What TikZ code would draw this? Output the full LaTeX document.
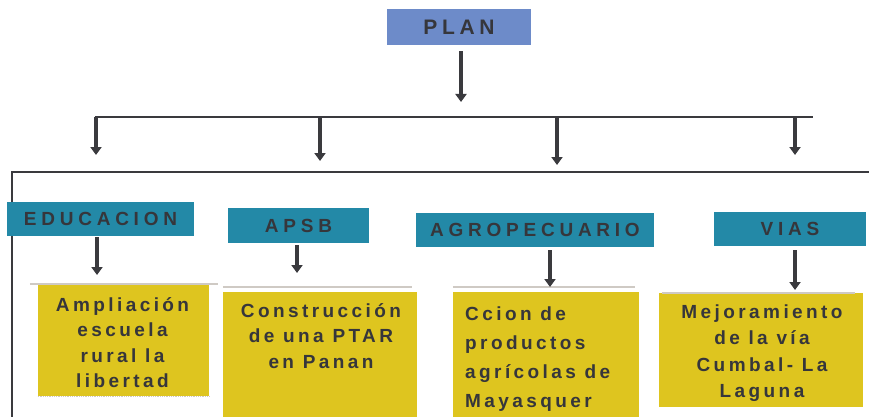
\documentclass[tikz,border=0pt]{standalone}
\usepackage{fontspec}
\setmainfont{Liberation Sans}
\newfontfamily\headfont[LetterSpace=25]{Liberation Sans}
\newfontfamily\planfont[LetterSpace=22]{Liberation Sans}
\newfontfamily\boxfont[LetterSpace=18]{Liberation Sans}
\usetikzlibrary{arrows.meta}
\definecolor{planblue}{HTML}{6D8BC9}
\definecolor{headteal}{HTML}{2389A7}
\definecolor{ylw}{HTML}{DEC51F}
\definecolor{ink}{HTML}{36363B}
\definecolor{lineink}{HTML}{3A3A3E}
\definecolor{shade}{HTML}{CFCAC4}
\begin{document}
\begin{tikzpicture}[x=1pt,y=-1pt,
  planbox/.style={fill=planblue, inner sep=0pt, minimum width=144pt, minimum height=36pt,
    text=ink, font=\planfont\bfseries\fontsize{21}{24}\selectfont},
  headbox/.style={fill=headteal, inner sep=0pt, minimum height=34pt,
    text=ink, font=\headfont\bfseries\fontsize{19}{22}\selectfont},
  ybox/.style={fill=ylw, inner sep=0pt},
  ytext/.style={text=ink, inner sep=0pt, align=center, anchor=base,
    font=\boxfont\bfseries\fontsize{19}{25.5}\selectfont},
  arr/.style={draw=lineink, line width=3.5pt, -{Triangle[width=11pt,length=8pt]}},
  bus/.style={draw=lineink, line width=2.5pt},
  frameline/.style={draw=lineink, line width=2pt},
  shadeline/.style={draw=shade, line width=2pt}]
\useasboundingbox (0,0) rectangle (869,417);

% top box
\node[planbox] (plan) at (459,27) {PLAN};
\coordinate (pa) at (461,102);
\draw[arr] ([yshift=-6pt]plan.south -| pa) -- (pa);

% bus
\coordinate (b1) at (96,117);
\coordinate (b2) at (320,117);
\coordinate (b3) at (557,117);
\coordinate (b4) at (795,117);
\coordinate (bend) at (813,117);
\draw[bus] ([xshift=-1.25pt]b1) -- (bend);
\coordinate (d1) at (96,155);
\coordinate (d2) at (320,161);
\coordinate (d3) at (557,165);
\coordinate (d4) at (795,155);
\draw[arr] (b1) -- (d1);
\draw[arr] (b2) -- (d2);
\draw[arr] (b3) -- (d3);
\draw[arr] (b4) -- (d4);

% frame
\coordinate (fTL) at (12,172);
\coordinate (fTR) at (870,172);
\coordinate (fBL) at (12,418);
\draw[frameline] (fBL) -- (fTL) -- (fTR);

% headings
\node[headbox, minimum width=187pt] (educ) at (100.5,219) {EDUCACION};
\node[headbox, minimum width=141pt, minimum height=35pt] (apsb) at (298.5,225.5) {APSB};
\node[headbox, minimum width=238pt] (agro) at (535,230) {AGROPECUARIO};
\node[headbox, minimum width=152pt] (vias) at (790,229) {VIAS};

% yellow boxes
\node[ybox, minimum width=171pt, minimum height=111pt] (y1) at (123.5,340.5) {};
\node[ybox, minimum width=194pt, minimum height=128pt] (y2) at (320,356) {};
\node[ybox, minimum width=186pt, minimum height=128pt] (y3) at (546,356) {};
\node[ybox, minimum width=204pt, minimum height=114pt] (y4) at (761,350) {};

\draw[shadeline] ([xshift=-8pt,yshift=0.5pt]y1.north west) -- ([xshift=9pt,yshift=0.5pt]y1.north east);
\draw[shadeline] ([yshift=5pt]y2.north west) -- ([yshift=5pt,xshift=-5pt]y2.north east);
\draw[shadeline] ([yshift=5pt]y3.north west) -- ([yshift=5pt,xshift=-4pt]y3.north east);
\draw[shadeline] ([xshift=3pt]y4.north west) -- ([xshift=-8pt]y4.north east);
\draw[draw=shade, line width=0.8pt, densely dotted] (y1.south west) -- (y1.south east);

% heading arrows
\coordinate (e1) at (97,275);
\coordinate (e2) at (297,273);
\coordinate (e3) at (550,287);
\coordinate (e4) at (795,290);
\draw[arr] ([yshift=-1pt]educ.south -| e1) -- (e1);
\draw[arr] ([yshift=-2pt]apsb.south -| e2) -- (e2);
\draw[arr] ([yshift=-3pt]agro.south -| e3) -- (e3);
\draw[arr] ([yshift=-4pt]vias.south -| e4) -- (e4);

% texts (base anchor = baseline of the last line)
\node[ytext] (t1) at (122.5,387.5) {Ampliación\\escuela\\rural la\\libertad};
\node[ytext] (t2) at (321,368) {Construcción\\de una PTAR\\en Panan};
\node[ytext, align=left, anchor=base west, font=\boxfont\bfseries\fontsize{19}{29}\selectfont] (t3) at (465,407) {Ccion de\\productos\\agrícolas de\\Mayasquer};
\node[ytext, font=\boxfont\bfseries\fontsize{19}{26.5}\selectfont] (t4) at (762,397.5) {Mejoramiento\\de la vía\\Cumbal- La\\Laguna};
\end{tikzpicture}
\end{document}
